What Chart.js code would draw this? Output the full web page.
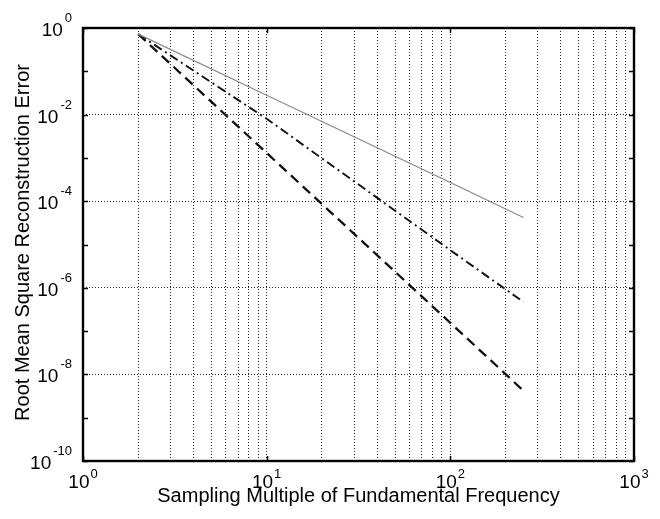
<!DOCTYPE html>
<html>
<head>
<meta charset="utf-8">
<script src="https://cdn.jsdelivr.net/npm/chart.js@4/dist/chart.umd.min.js"></script>
<style>
  html, body { margin: 0; padding: 0; background: #fff; }
  #wrap { width: 660px; height: 519px; position: relative; }
</style>
</head>
<body>
<div id="wrap"><canvas id="chart"></canvas></div>
<script>
// values
const samplingMultiple = [2, 10, 100, 250];
const errSolid = [0.72, 0.028, 2.7e-4, 4.2e-5];
const errDashDot = [0.72, 8.0e-3, 7.4e-6, 4.7e-7];
const errDashed = [0.72, 1.3e-3, 1.55e-7, 4.2e-9];

const xTicks = [1, 2, 3, 4, 5, 6, 7, 8, 9, 10, 20, 30, 40, 50, 60, 70, 80, 90,
  100, 200, 300, 400, 500, 600, 700, 800, 900, 1000];
const yTicks = [1e-10, 1e-9, 1e-8, 1e-7, 1e-6, 1e-5, 1e-4, 1e-3, 1e-2, 1e-1, 1];
const xLabelExp = [0, 1, 2, 3];
const yLabelExp = [0, -2, -4, -6, -8, -10];

const xTitle = 'Sampling Multiple of Fundamental Frequency';
const yTitle = 'Root Mean Square Reconstruction Error';

const FONT = '"Liberation Sans", Arial, Helvetica, sans-serif';

function points(ys) {
  return samplingMultiple.map((x, i) => ({ x: x, y: ys[i] }));
}

function isEvenDecade(v) {
  const e = Math.round(Math.log10(v));
  return e % 2 === 0;
}

// box, inward ticks, labels with superscripts, axis titles
const axesPlugin = {
  id: 'matlabAxes',
  afterDraw(chart) {
    const ctx = chart.ctx;
    const area = chart.chartArea;
    const xs = chart.scales.x;
    const ys = chart.scales.y;
    ctx.save();

    ctx.strokeStyle = '#000';
    ctx.lineWidth = 1.5;
    // inward tick marks
    const tl = 5;
    yTicks.forEach(v => {
      const py = Math.round(ys.getPixelForValue(v)) + 0.5;
      ctx.beginPath();
      ctx.moveTo(area.left, py); ctx.lineTo(area.left + tl, py);
      ctx.moveTo(area.right, py); ctx.lineTo(area.right - tl, py);
      ctx.stroke();
    });
    xLabelExp.forEach(e => {
      const px = Math.round(xs.getPixelForValue(Math.pow(10, e))) + 0.5;
      ctx.beginPath();
      ctx.moveTo(px, area.bottom); ctx.lineTo(px, area.bottom - tl);
      ctx.moveTo(px, area.top); ctx.lineTo(px, area.top + tl);
      ctx.stroke();
    });

    // box
    ctx.lineWidth = 2.4;
    ctx.strokeRect(area.left, area.top, area.right - area.left, area.bottom - area.top);

    ctx.fillStyle = '#000';
    const big = '19px ' + FONT;
    const small = '13px ' + FONT;
    ctx.textBaseline = 'alphabetic';

    // y tick labels
    yLabelExp.forEach(e => {
      const py = ys.getPixelForValue(Math.pow(10, e));
      const expTxt = String(e);
      ctx.font = small;
      const ew = ctx.measureText(expTxt).width;
      const expRight = area.left - 11;
      ctx.textAlign = 'right';
      ctx.fillText(expTxt, expRight, py - 6);
      ctx.font = big;
      ctx.fillText('10', expRight - ew - 2, py + 8);
    });

    // x tick labels, whole "10^e" centred on the tick
    xLabelExp.forEach(e => {
      const px = xs.getPixelForValue(Math.pow(10, e));
      const expTxt = String(e);
      ctx.font = big;
      const bw = ctx.measureText('10').width;
      ctx.font = small;
      const ew = ctx.measureText(expTxt).width;
      const start = px - (bw + 1 + ew) / 2;
      ctx.textAlign = 'left';
      ctx.font = big;
      ctx.fillText('10', start, area.bottom + 27);
      ctx.font = small;
      ctx.fillText(expTxt, start + bw + 1, area.bottom + 17);
    });

    // axis titles
    ctx.font = '20px ' + FONT;
    ctx.textAlign = 'center';
    ctx.fillText(xTitle, (area.left + area.right) / 2, area.bottom + 41);
    ctx.save();
    ctx.translate(29, (area.top + area.bottom) / 2 - 2);
    ctx.rotate(-Math.PI / 2);
    ctx.fillText(yTitle, 0, 0);
    ctx.restore();

    ctx.restore();
  }
};

new Chart(document.getElementById('chart'), {
  type: 'line',
  data: {
    datasets: [
      {
        label: 'solid',
        data: points(errSolid),
        borderColor: '#8a8a8a',
        borderWidth: 1.3,
        pointRadius: 0,
        tension: 0,
        fill: false
      },
      {
        label: 'dash-dot',
        data: points(errDashDot),
        borderColor: '#111',
        borderWidth: 1.9,
        borderDash: [9, 4, 2, 4],
        pointRadius: 0,
        tension: 0,
        fill: false
      },
      {
        label: 'dashed',
        data: points(errDashed),
        borderColor: '#111',
        borderWidth: 2.3,
        borderDash: [10, 6],
        pointRadius: 0,
        tension: 0,
        fill: false
      }
    ]
  },
  options: {
    responsive: true,
    maintainAspectRatio: false,
    animation: false,
    layout: { padding: { left: 0, top: 28, right: 26, bottom: 0 } },
    plugins: {
      legend: { display: false },
      tooltip: { enabled: false }
    },
    scales: {
      x: {
        type: 'logarithmic',
        min: 1,
        max: 1000,
        afterBuildTicks: scale => { scale.ticks = xTicks.map(v => ({ value: v })); },
        afterFit: scale => { scale.height = 58; },
        ticks: { display: false },
        grid: { color: '#222', lineWidth: 1, drawTicks: false },
        border: { display: false, dash: [1, 2] }
      },
      y: {
        type: 'logarithmic',
        min: 1e-10,
        max: 1,
        afterBuildTicks: scale => { scale.ticks = yTicks.map(v => ({ value: v })); },
        afterFit: scale => { scale.width = 83; },
        ticks: { display: false },
        grid: {
          color: c => (c.tick && isEvenDecade(c.tick.value)) ? '#222' : 'rgba(0,0,0,0)',
          lineWidth: 1,
          drawTicks: false
        },
        border: { display: false, dash: [1, 2] }
      }
    }
  },
  plugins: [axesPlugin]
});
</script>
</body>
</html>
